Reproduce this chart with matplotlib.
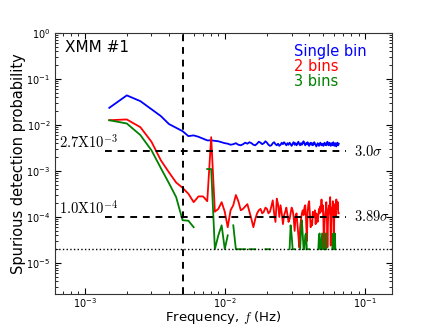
import matplotlib
matplotlib.use("Agg")

import matplotlib.pyplot as plt
import numpy as np

nan = np.nan

# frequency grid: harmonics of 0.5 mHz
df = 0.0005
harmonics = np.arange(3, 131)
freq = harmonics * df

single_bin = [
    0.0234, 0.0436, 0.0327, 0.0219, 0.0155, 0.0104, 0.0086, 0.0073, 0.0057, 0.0059, 0.0055, 0.0050, 0.0046, 0.0046,
    0.0045, 0.0044, 0.0042, 0.0040, 0.0039, 0.0037, 0.0038, 0.0040, 0.0037, 0.0036,
    0.0038, 0.0041, 0.0039, 0.0042, 0.0040, 0.0037, 0.0036, 0.0039, 0.0043, 0.0041,
    0.0038, 0.0040, 0.0044, 0.0041, 0.0037, 0.0035, 0.0036, 0.0040, 0.0042, 0.0038,
    0.0036, 0.0039, 0.0035, 0.0037, 0.0041, 0.0038, 0.0042, 0.0039, 0.0036, 0.0040,
    0.0037, 0.0041, 0.0038, 0.0035, 0.0039, 0.0042, 0.0037, 0.0040, 0.0036, 0.0039,
    0.0043, 0.0038, 0.0036, 0.0040, 0.0037, 0.0041, 0.0044, 0.0039, 0.0036, 0.0040,
    0.0038, 0.0042, 0.0037, 0.0035, 0.0039, 0.0041, 0.0037, 0.0040, 0.0036, 0.0038,
    0.0042, 0.0039, 0.0036, 0.0034, 0.0037, 0.0040, 0.0038, 0.0035, 0.0037, 0.0041,
    0.0038, 0.0036, 0.0039, 0.0037, 0.0035, 0.0038, 0.0041, 0.0037, 0.0039, 0.0036,
    0.0040, 0.0043, 0.0038, 0.0036, 0.0039, 0.0041, 0.0037, 0.0035, 0.0038, 0.0040,
    0.0036, 0.0039, 0.0042, 0.0038, 0.0035, 0.0037, 0.0040, 0.0036, 0.0034, 0.0038,
    0.0041, 0.0037, 0.0036, 0.0039,
]

two_bins = [
    0.0126, 0.0131, 0.0089, 0.0043, 0.0017, 0.00093, 0.00056, 0.00043, 0.00032, 0.00021, 0.00028, 0.00028, 0.00022, 0.0054,
    1.3e-4, 1.5e-4, 2.1e-4, 1.3e-4, 6e-5, 1.4e-4, 1.8e-4, 3e-4, 2.2e-4, 1.4e-4,
    1.5e-4, 1.7e-4, 1.9e-4, 1.3e-4, 9e-5, 6e-5, 9e-5, 1.2e-4, 1.4e-4, 1.5e-4,
    1.2e-4, 1.3e-4, 1.6e-4, 1.5e-4, 1.2e-4, 1.3e-4, 1.7e-4, 2.3e-4, 1.2e-4, 7.8e-5,
    2.5e-4, 1.9e-4, 1e-4, 1.8e-4, 1.2e-4, 7e-5, 1.1e-4, 1.3e-4, 1.6e-4, 1.1e-4,
    7.8e-5, 9e-5, 1.2e-4, 1.6e-4, 1.4e-4, 1e-4, 5e-5, 1e-4, 1.2e-4, 7e-5,
    4e-5, 2.2e-5, 6e-5, 9e-5, 1.2e-4, 1.4e-4, 1.1e-4, 1.6e-4, 1.8e-4, 9e-5,
    3e-5, 1.3e-4, 1.9e-4, 2.2e-4, 1.1e-4, 6e-5, 8e-5, 6.6e-5, 1.3e-4, 1.1e-4,
    1e-4, 1.4e-4, 7e-5, 1.2e-4, 9e-5, 7.8e-5, 1.1e-4, 1.5e-4, 1.2e-4, 1.7e-4,
    1.5e-4, 2.4e-4, 1.3e-4, 1.8e-4, 9e-5, 2.2e-5, 7e-5, 1.2e-4, 1.4e-4, 2.1e-4,
    1.1e-4, 2.2e-5, 8e-5, 1.5e-4, 1.8e-4, 1.2e-4, 2.7e-4, 2.4e-5, 9e-5, 1.6e-4,
    1.3e-4, 2.2e-4, 1e-4, 2.2e-5, 1.4e-4, 1.9e-4, 1.1e-4, 1e-4, 2.4e-4, 1.5e-4,
    1.5e-4, 2.1e-4, 1.2e-4, 1.2e-4,
]

three_bins = [
    0.0126, 0.0107, 0.0060, 0.0028, 0.00115, 0.00054, 0.00027, 8.5e-5, 8.3e-5, 6e-5, nan, nan, 0.0011, 0.0011,
    2e-5, 4e-5, 6.6e-5, 2e-5, 4e-5, nan, 6.6e-5, 2e-5, 2e-5, 2e-5,
    2e-5, 2e-5, nan, 2e-5, 2e-5, 2e-5, 2e-5, nan, nan, nan,
    nan, nan, 2e-5, 2e-5, 2e-5, 2e-5, nan, nan, nan, nan,
    nan, nan, nan, nan, nan, nan, nan, nan, nan, nan,
    nan, 2e-5, 6.6e-5, 4e-5, 2e-5, 2e-5, 2e-5, nan, nan, nan,
    nan, nan, 2e-5, 5e-5, 8.5e-5, 4e-5, 2e-5, 2e-5, 4e-5, 4.4e-5,
    2e-5, 2e-5, 2e-5, 2e-5, nan, nan, nan, nan, nan, nan,
    nan, nan, nan, nan, nan, nan, 2e-5, 4e-5, 4.4e-5, 2e-5,
    2e-5, 3e-5, 4.4e-5, 2e-5, 2e-5, nan, nan, 2e-5, 4.4e-5, 2e-5,
    nan, nan, nan, nan, nan, nan, nan, nan, nan, nan,
    2e-5, 4e-5, 4.4e-5, 2e-5, 2e-5, 4.4e-5, 2e-5, nan, nan, nan,
    nan, nan, nan, nan,
]

# thresholds
p_3sigma = 2.7e-3
p_389sigma = 1.0e-4
p_floor = 2e-5
f_cut = 5e-3

plt.rcParams['mathtext.fontset'] = 'cm'

fig = plt.figure(figsize=(4.36, 3.27), dpi=100)
ax = fig.add_axes([0.125, 0.1, 0.775, 0.8])

ax.plot(freq, single_bin, color='b', lw=1.3)
ax.plot(freq, two_bins, color='r', lw=1.3)
ax.plot(freq, three_bins, color='g', lw=1.3)

ax.set_xscale('log')
ax.set_yscale('log')
ax.set_xlim(6.1e-4, 0.157)
ax.set_ylim(2.1e-6, 1)

dash = (0, (3.5, 3))
ax.hlines([p_3sigma, p_389sigma], 0.0014, 0.073, colors='k', linestyles=[dash], lw=1.4)
ax.axvline(f_cut, color='k', linestyle=dash, lw=1.4)
ax.axhline(p_floor, color='k', linestyle=':', lw=1.0)

ax.text(6.6e-4, p_3sigma, r'$2.7\mathrm{X}10^{-3}$', fontsize=10.5, ha='left', va='bottom')
ax.text(6.6e-4, p_389sigma, r'$1.0\mathrm{X}10^{-4}$', fontsize=10.5, ha='left', va='bottom')
ax.text(0.083, p_3sigma, r'$3.0\sigma$', fontsize=10.5, ha='left', va='center')
ax.text(0.083, p_389sigma, r'$3.89\sigma$', fontsize=10.5, ha='left', va='center')

ax.text(0.03, 0.943, 'XMM #1', transform=ax.transAxes, fontsize=11, va='center')
ax.text(0.71, 0.927, 'Single bin', color='b', transform=ax.transAxes, fontsize=10.5, va='center')
ax.text(0.71, 0.870, '2 bins', color='r', transform=ax.transAxes, fontsize=10.5, va='center')
ax.text(0.71, 0.812, '3 bins', color='g', transform=ax.transAxes, fontsize=10.5, va='center')

ax.set_xlabel(r'Frequency, $f$ (Hz)', fontsize=9.5, labelpad=-1)
ax.set_ylabel('Spurious detection probability', fontsize=10.5, labelpad=0)

ax.tick_params(which='both', direction='in', top=True, right=True, labelsize=7)
ax.tick_params(which='major', length=4, pad=3)
ax.tick_params(axis='x', which='major', pad=1.5)
ax.tick_params(which='minor', length=2)
for s in ax.spines.values():
    s.set_color('0.2')

fig.savefig('out.png', dpi=100)
